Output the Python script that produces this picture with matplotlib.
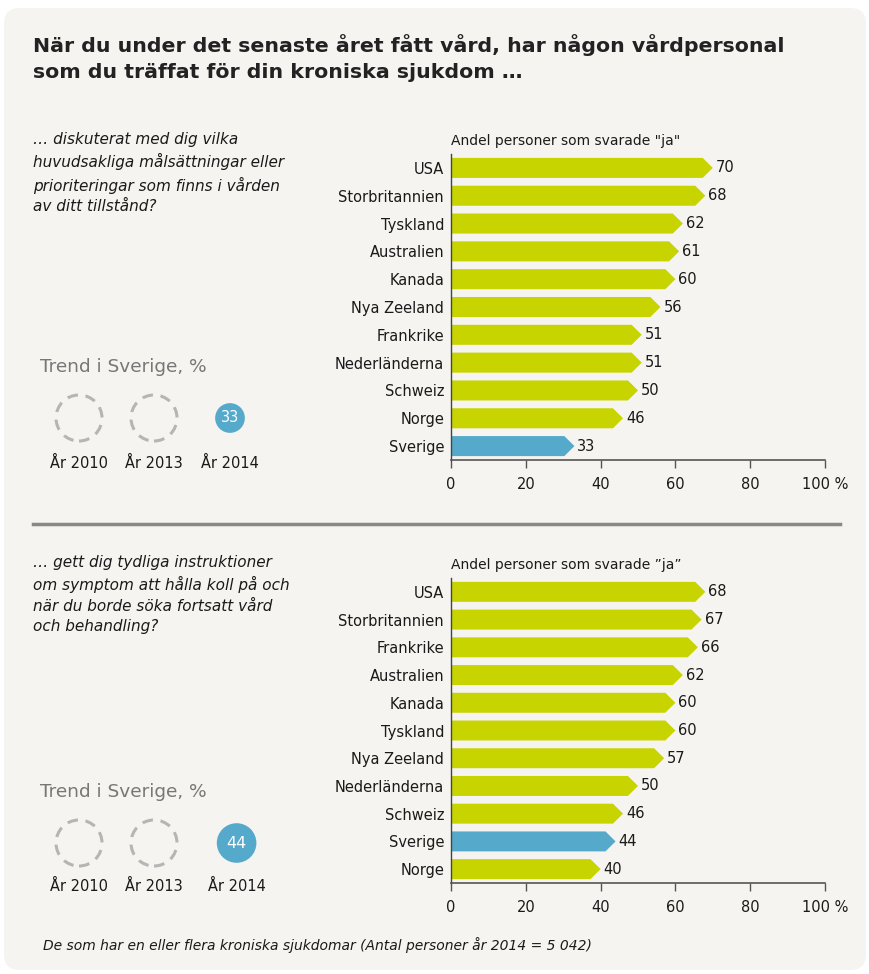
import matplotlib
matplotlib.use("Agg")
import matplotlib.pyplot as plt
from matplotlib.patches import Polygon, FancyBboxPatch, Ellipse
import numpy as np

# ---------------- data ----------------
title_lines = ["När du under det senaste året fått vård, har någon vårdpersonal",
               "som du träffat för din kroniska sjukdom …"]

q1_text = "… diskuterat med dig vilka\nhuvudsakliga målsättningar eller\nprioriteringar som finns i vården\nav ditt tillstånd?"
q1_countries = ["USA", "Storbritannien", "Tyskland", "Australien", "Kanada", "Nya Zeeland",
                "Frankrike", "Nederländerna", "Schweiz", "Norge", "Sverige"]
q1_values = [70, 68, 62, 61, 60, 56, 51, 51, 50, 46, 33]
q1_axis_title = 'Andel personer som svarade "ja"'
q1_trend = [None, None, 33]

q2_text = "… gett dig tydliga instruktioner\nom symptom att hålla koll på och\nnär du borde söka fortsatt vård\noch behandling?"
q2_countries = ["USA", "Storbritannien", "Frankrike", "Australien", "Kanada", "Tyskland",
                "Nya Zeeland", "Nederländerna", "Schweiz", "Sverige", "Norge"]
q2_values = [68, 67, 66, 62, 60, 60, 57, 50, 46, 44, 40]
q2_axis_title = "Andel personer som svarade ”ja”"
q2_trend = [None, None, 44]

trend_years = ["År 2010", "År 2013", "År 2014"]
x_ticks = [0, 20, 40, 60, 80, 100]
x_tick_labels = ["0", "20", "40", "60", "80", "100 %"]
footer = "De som har en eller flera kroniska sjukdomar (Antal personer år 2014 = 5 042)"

GREEN = "#c8d400"
BLUE = "#55a9ca"
BG = "#f5f4f0"
TXT = "#1a1a1a"

W, H = 869, 974
fig = plt.figure(figsize=(W / 100, H / 100), dpi=100)
fig.patch.set_facecolor("white")

plt.rcParams['font.family'] = ['DejaVu Sans']

def fx(px):
    return px / W

def fy(py):
    return 1 - py / H

# background panel
panel = FancyBboxPatch((fx(4), fy(970)), fx(862), (966 - 4) / H,
                       boxstyle="round,pad=0,rounding_size=0.018",
                       transform=fig.transFigure, facecolor=BG, edgecolor="none",
                       mutation_aspect=W / H, zorder=-5)
fig.patches.append(panel)

# title (fit to reference width)
renderer = fig.canvas.get_renderer()
title_objs = []
for k, (line, yy) in enumerate(zip(title_lines, [45, 73])):
    t = fig.text(fx(33), fy(yy), line, fontsize=17, fontweight="bold",
                 color="#222222", va="center", ha="left")
    title_objs.append(t)
w0 = title_objs[0].get_window_extent(renderer).width
fs = 17 * 750 / w0
for t in title_objs:
    t.set_fontsize(fs)

# separator
fig.add_artist(plt.Line2D([fx(33), fx(840)], [fy(523.5), fy(523.5)],
                          transform=fig.transFigure, color="#888888", lw=2.5))


def circle(cx, cy, r, **kw):
    e = Ellipse((fx(cx), fy(cy)), 2 * r / W, 2 * r / H, transform=fig.transFigure, **kw)
    fig.patches.append(e)


def draw_panel(top_px, bottom_px, countries, values, axis_title, qtext, qtext_y,
               trend_vals, trend_title_y, circles_y, years_y):
    ax = fig.add_axes([fx(451), fy(bottom_px), fx(825) - fx(451), (bottom_px - top_px) / H])
    ax.set_facecolor("none")
    n = len(countries)
    ax.set_xlim(0, 100)
    ax.set_ylim(n - 0.5, -0.5)
    bh = 0.72
    tip = 2.7
    for i, (c, v) in enumerate(zip(countries, values)):
        col = BLUE if c == "Sverige" else GREEN
        pts = [(0, i - bh / 2), (v - tip, i - bh / 2), (v, i), (v - tip, i + bh / 2), (0, i + bh / 2)]
        ax.add_patch(Polygon(pts, closed=True, facecolor=col, edgecolor="none", zorder=2))
        ax.text(v + 0.8, i, str(v), va="center", ha="left", fontsize=10.5, color=TXT)
    ax.set_yticks(range(n))
    ax.set_yticklabels(countries, fontsize=10.5, color=TXT)
    ax.tick_params(axis="y", length=0, pad=5)
    ax.set_xticks(x_ticks)
    ax.set_xticklabels(x_tick_labels, fontsize=10.5, color=TXT)
    ax.tick_params(axis="x", direction="out", length=6, width=1, color="#555555", pad=6)
    for s in ["top", "right"]:
        ax.spines[s].set_visible(False)
    ax.spines["left"].set_color("#444444")
    ax.spines["bottom"].set_color("#555555")
    ax.spines["left"].set_linewidth(1)
    ax.spines["bottom"].set_linewidth(1.2)
    # axis title
    fig.text(fx(451), fy(top_px - 13), axis_title, fontsize=10, color=TXT, ha="left", va="center")
    # question
    fig.text(fx(33), fy(qtext_y), qtext, fontsize=11, style="italic", color=TXT,
             ha="left", va="top", linespacing=1.45)
    # trend
    fig.text(fx(40), fy(trend_title_y), "Trend i Sverige, %", fontsize=13.3, color="#777777",
             ha="left", va="center")
    cx = [79, 154, 230]
    for j, (tv, yr) in enumerate(zip(trend_vals, trend_years)):
        if tv is None:
            circle(cx[j], circles_y, 23, facecolor="none", edgecolor="#b5b5b5", lw=2.2,
                   linestyle=(0, (3.5, 2.5)), zorder=3)
            lx = cx[j]
        else:
            r = 0.45 * tv
            lx = cx[j] + (tv - 33) * 0.6
            circle(lx, circles_y, r, facecolor=BLUE, edgecolor="none", zorder=3)
            fig.text(fx(lx), fy(circles_y), str(tv), fontsize=10.5 if tv < 40 else 11.5,
                     color="white", ha="center", va="center", zorder=4)
        fig.text(fx(lx), fy(years_y), yr, fontsize=10.5, color=TXT, ha="center", va="center")
    return ax


draw_panel(154, 460, q1_countries, q1_values, q1_axis_title, q1_text, 132,
           q1_trend, 367, 418, 463)
draw_panel(578, 883, q2_countries, q2_values, q2_axis_title, q2_text, 555,
           q2_trend, 792, 843, 886)

fig.text(fx(43), fy(945), footer, fontsize=10, style="italic", color=TXT, ha="left", va="center")

fig.savefig("out.png", dpi=100, facecolor=fig.get_facecolor())
